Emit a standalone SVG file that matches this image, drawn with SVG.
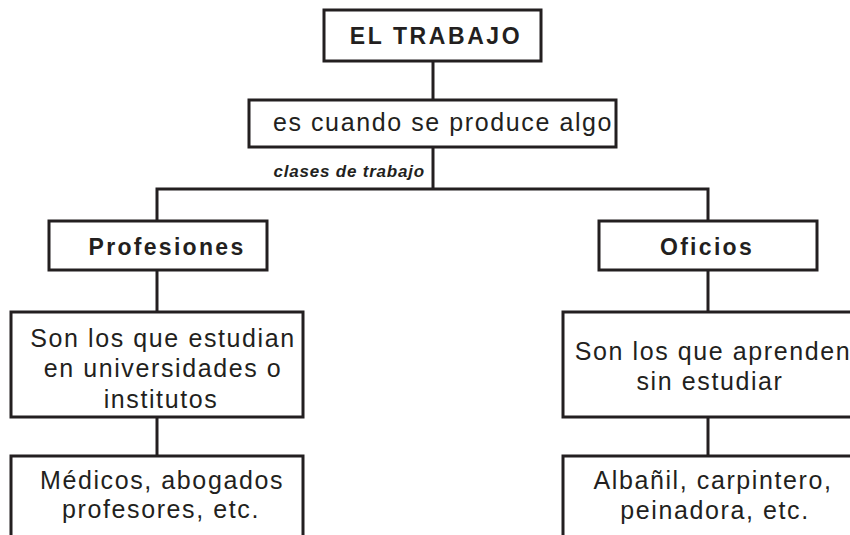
<svg xmlns="http://www.w3.org/2000/svg" width="850" height="535" viewBox="0 0 850 535">
<style>
.box{fill:#fff;stroke:#231f20;stroke-width:3}
.ln{fill:none;stroke:#231f20;stroke-width:3}
.t{font-family:"Liberation Sans",Arial,sans-serif;font-size:25px;letter-spacing:1.6px;fill:#231f20;text-anchor:middle}
.b{font-weight:bold;font-size:23px;letter-spacing:2.3px}
.lbl{font-family:"Liberation Sans",Arial,sans-serif;font-size:17px;font-weight:bold;font-style:italic;letter-spacing:0.8px;fill:#231f20;text-anchor:end}
</style>
<rect width="850" height="535" fill="#fff"/>
<g id="connectors">
<line class="ln" x1="433" y1="61" x2="433" y2="100"/>
<line class="ln" x1="433" y1="147" x2="433" y2="189"/>
<polyline class="ln" points="157,221 157,189 708,189 708,221"/>
<line class="ln" x1="157" y1="270" x2="157" y2="312"/>
<line class="ln" x1="157" y1="417" x2="157" y2="456"/>
<line class="ln" x1="708" y1="270" x2="708" y2="312"/>
<line class="ln" x1="708" y1="417" x2="708" y2="456"/>
<text class="lbl" x="425" y="177">clases de trabajo</text>
</g>
<g id="trabajo">
<rect class="box" x="324" y="10" width="217" height="51"/>
<text class="t b" x="436" y="44" style="letter-spacing:2.6px">EL TRABAJO</text>
</g>
<g id="definicion">
<rect class="box" x="249" y="100" width="367" height="47"/>
<text class="t" x="443" y="131">es cuando se produce algo</text>
</g>
<g id="profesiones">
<rect class="box" x="49" y="221" width="218" height="49"/>
<text class="t b" x="167" y="255">Profesiones</text>
</g>
<g id="oficios">
<rect class="box" x="599" y="221" width="218" height="49"/>
<text class="t b" x="707" y="255">Oficios</text>
</g>
<g id="prof-desc">
<rect class="box" x="11" y="312" width="292" height="105"/>
<text class="t" x="163" y="347">Son los que estudian</text>
<text class="t" x="163" y="377">en universidades o</text>
<text class="t" x="161" y="408">institutos</text>
</g>
<g id="ofic-desc">
<rect class="box" x="563" y="312" width="292" height="105"/>
<text class="t" x="713" y="360">Son los que aprenden</text>
<text class="t" x="710" y="390">sin estudiar</text>
</g>
<g id="prof-ej">
<rect class="box" x="11" y="456" width="292" height="100"/>
<text class="t" x="162" y="489">Médicos, abogados</text>
<text class="t" x="161" y="518">profesores, etc.</text>
</g>
<g id="ofic-ej">
<rect class="box" x="563" y="456" width="292" height="100"/>
<text class="t" x="713" y="489">Albañil, carpintero,</text>
<text class="t" x="715" y="519">peinadora, etc.</text>
</g>
</svg>
